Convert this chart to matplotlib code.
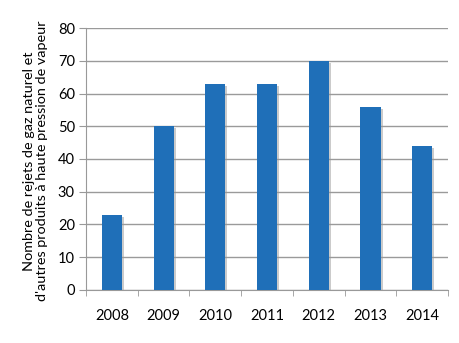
import matplotlib
matplotlib.use("Agg")
import matplotlib.pyplot as plt
import matplotlib.patheffects as pe
import numpy as np

years = ["2008", "2009", "2010", "2011", "2012", "2013", "2014"]
values = [23, 50, 63, 63, 70, 56, 44]
yticks = [0, 10, 20, 30, 40, 50, 60, 70, 80]

plt.rcParams['font.family'] = ['Lato', 'DejaVu Sans']

fig = plt.figure(figsize=(4.6, 3.43), dpi=100)
ax = fig.add_axes([0.187, 0.155, 0.787, 0.763])

x = np.arange(len(years))
bars = ax.bar(x, values, width=0.39, color="#1f6fb8", zorder=3)
for b in bars:
    b.set_path_effects([pe.SimplePatchShadow(offset=(1.5, -1.5), shadow_rgbFace="#999999", alpha=0.5), pe.Normal()])

ax.set_xlim(-0.5, len(years) - 0.5)
ax.set_ylim(0, 80)
ax.set_yticks(yticks)
ax.set_xticks(x)
ax.set_xticklabels(years)
ax.set_xticks(np.arange(len(years) + 1) - 0.5, minor=True)
ax.tick_params(axis='x', which='major', length=0, pad=14, labelsize=10.5)
ax.tick_params(axis='x', which='minor', length=4, color="#999999", direction='out')
ax.tick_params(axis='y', length=5, color="#999999", labelsize=10.5, pad=3)
ax.grid(axis='y', color="#9a9a9a", linewidth=1.0, zorder=0)
for s in ["top", "right"]:
    ax.spines[s].set_visible(False)
ax.spines["left"].set_color("#999999")
ax.spines["bottom"].set_color("#999999")

ax.set_ylabel("Nombre de rejets de gaz naturel et\nd'autres produits à haute pression de vapeur",
              fontsize=10.4, linespacing=1.12)
ax.yaxis.set_label_coords(-0.104, 0.493)

fig.savefig("out.png", dpi=100)
